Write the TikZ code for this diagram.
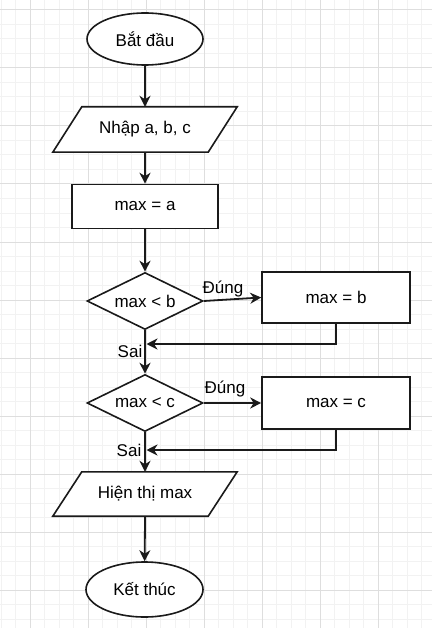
\documentclass[tikz,border=0pt]{standalone}
\usepackage{fontspec}
\setmainfont{Liberation Sans}
\usetikzlibrary{arrows.meta,shapes.geometric}
\definecolor{gridminor}{HTML}{F2F2F2}
\definecolor{gridmajor}{HTML}{DEDEDE}
\definecolor{ink}{HTML}{1A1A1A}
\begin{document}
\begin{tikzpicture}[x=1pt,y=-1pt,
  every node/.style={font=\fontsize{17}{20}\selectfont, text=black, inner sep=0pt},
  shapebox/.style={draw=ink, line width=1.6pt, fill=white},
  procbox/.style={shapebox, rectangle},
  termbox/.style={shapebox, ellipse},
  decbox/.style={shapebox, diamond, aspect=2.5},
  iobody/.style={minimum width=155pt},
  conn/.style={draw=ink, line width=1.8pt, -{Stealth[length=11pt,width=11pt,inset=3.5pt]}},
  lbl/.style={fill=none},
  minorline/.style={draw=gridminor, line width=1pt},
  majorline/.style={draw=gridmajor, line width=1pt}]
\useasboundingbox (0,0) rectangle (432,628);
\fill[white] (0,0) rectangle (432,628);
% grid
\foreach \i in {0,...,30} {
  \draw[minorline] ({1+14.5*\i},0) -- ({1+14.5*\i},628);
}
\foreach \i in {0,...,44} {
  \draw[minorline] (0,{-4.5+14.5*\i}) -- (432,{-4.5+14.5*\i});
}
\foreach \i in {0,...,6} {
  \draw[majorline] ({30+58*\i},0) -- ({30+58*\i},628);
}
\foreach \i in {0,...,10} {
  \draw[majorline] (0,{10+58*\i}) -- (432,{10+58*\i});
}
% nodes
\node[termbox, minimum width=116pt, minimum height=52pt] (start) at (145,39) {Bắt đầu};
\node[iobody, minimum height=45pt] (inp) at (145,129.5) {};
\draw[shapebox] ([xshift=14.5pt]inp.north west) -- ([xshift=14.5pt]inp.north east)
  -- ([xshift=-14.5pt]inp.south east) -- ([xshift=-14.5pt]inp.south west) -- cycle;
\node at (inp.center) {Nhập a, b, c};
\node[procbox, minimum width=146pt, minimum height=44pt] (ma) at (145,206.5) {max = a};
\node[decbox, minimum width=116pt, minimum height=57pt] (d1) at (145,301) {max < b};
\node[procbox, minimum width=148pt, minimum height=51pt] (rb) at (336,297.5) {max = b};
\node[decbox, minimum width=116pt, minimum height=57pt] (d2) at (145,403) {max < c};
\node[procbox, minimum width=148pt, minimum height=52pt] (rc) at (336,403) {max = c};
\node[iobody, minimum height=44pt] (out) at (145,494) {};
\draw[shapebox] ([xshift=14.5pt]out.north west) -- ([xshift=14.5pt]out.north east)
  -- ([xshift=-14.5pt]out.south east) -- ([xshift=-14.5pt]out.south west) -- cycle;
\node at (out.center) {Hiện thị max};
\node[termbox, minimum width=117pt, minimum height=55pt] (end) at (144.5,589.5) {Kết thúc};
\coordinate (j1) at (146.5,344);
\coordinate (j2) at (146.5,450);
% connectors
\draw[conn] (start) -- (inp.north);
\draw[conn] (inp.south) -- (ma);
\draw[conn] (ma) -- (d1);
\draw[conn] (d1.east) -- (rb.west);
\draw[conn] (rb.south) |- (j1);
\draw[conn] (d1.south) -- (d2.north);
\draw[conn] (d2.east) -- (rc.west);
\draw[conn] (rc.south) |- (j2);
\draw[conn] (d2.south) -- (out.north);
\draw[conn] (out.south) -- (end);
% labels
\node[lbl] (t1) at (223,289) {Đúng};
\node[lbl] (f1) at (130,351.5) {Sai};
\node[lbl] (t2) at (225,389) {Đúng};
\node[lbl] (f2) at (129,450) {Sai};
\end{tikzpicture}
\end{document}
